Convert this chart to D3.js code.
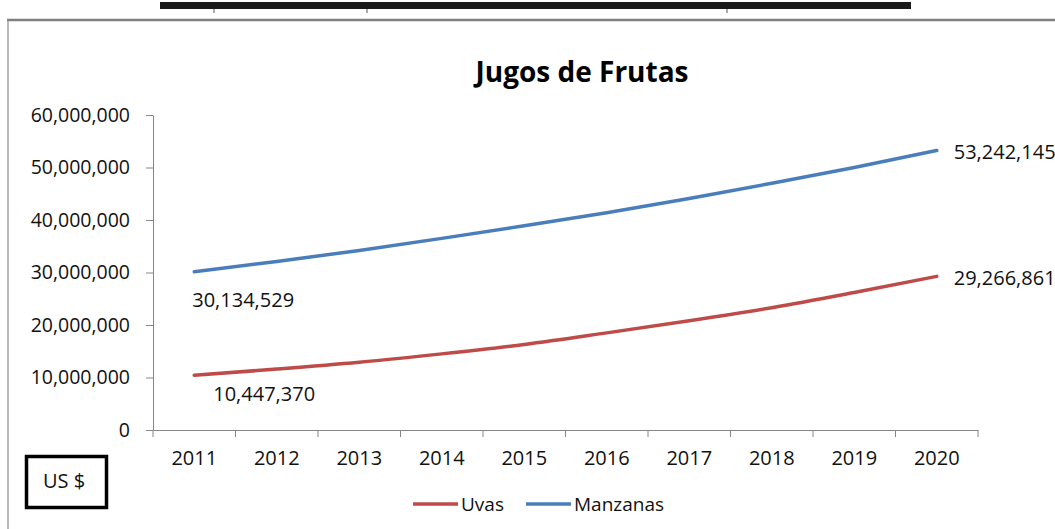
<!DOCTYPE html>
<html>
<head>
<meta charset="utf-8">
<script src="https://cdn.jsdelivr.net/npm/d3@7"></script>
<style>
body { margin: 0; background: #fff; }
text { font-family: "Open Sans", sans-serif; fill: #111; }
</style>
</head>
<body>
<svg width="1055" height="529"></svg>
<script>
// values (US $)
var years = ['2011', '2012', '2013', '2014', '2015', '2016', '2017', '2018', '2019', '2020'];
var uvas = [10447370, 11600000, 12900000, 14500000, 16300000, 18500000, 20800000, 23300000, 26200000, 29266861];
var manzanas = [30134529, 32100000, 34200000, 36500000, 38900000, 41400000, 44100000, 47000000, 50000000, 53242145];
var yTicks = [0, 10000000, 20000000, 30000000, 40000000, 50000000, 60000000];
var seriesNames = ['Uvas', 'Manzanas'];
var seriesColors = ['#be4b48', '#4a7ebb'];

var svg = d3.select('svg');
var axisColor = '#868686';

var x = d3.scaleBand().domain(years).range([153, 978]);
var y = d3.scaleLinear().domain([0, 60000000]).range([430, 115]);
function cx(i) { return x(years[i]) + x.bandwidth() / 2; }

// page frame bits (cropped from a document)
svg.append('rect').attr('x', 160).attr('y', 2).attr('width', 751).attr('height', 7).attr('fill', '#1a1a1a');
[213, 366, 726].forEach(function(px) {
    svg.append('rect').attr('x', px).attr('y', 9).attr('width', 2).attr('height', 4).attr('fill', '#aaa');
});
svg.append('line').attr('x1', 7).attr('x2', 1055).attr('y1', 20).attr('y2', 20)
    .attr('stroke', '#7f7f7f').attr('stroke-width', 2.5);
svg.append('line').attr('x1', 8).attr('x2', 8).attr('y1', 20).attr('y2', 529)
    .attr('stroke', '#8a8a8a').attr('stroke-width', 1.2);

// title
svg.append('text').attr('x', 582).attr('y', 82).attr('text-anchor', 'middle')
    .style('font-size', '28px').style('font-weight', 'bold').style('fill', '#000')
    .text('Jugos de Frutas');

// y axis
var yAxis = svg.append('g').attr('transform', 'translate(153,0)')
    .call(d3.axisLeft(y).tickValues(yTicks).tickSize(7).tickSizeOuter(0).tickPadding(16)
        .tickFormat(d3.format(',')));
yAxis.select('.domain').attr('stroke', axisColor);
yAxis.selectAll('.tick line').attr('stroke', axisColor);
yAxis.selectAll('text').style('font-size', '19.5px').style('font-family', '"Open Sans", sans-serif').attr('fill', '#111');

// x axis
var xAxis = svg.append('g').attr('transform', 'translate(0,430)')
    .call(d3.axisBottom(x).tickSize(0).tickSizeOuter(0).tickPadding(21));
xAxis.select('.domain').attr('stroke', axisColor);
xAxis.selectAll('text').style('font-size', '20px').style('font-family', '"Open Sans", sans-serif').attr('fill', '#111');
var edges = years.map(function(d) { return x(d); }).concat([x.range()[1]]);
xAxis.selectAll('line.edge').data(edges).enter().append('line').attr('class', 'edge')
    .attr('x1', function(d) { return d; }).attr('x2', function(d) { return d; })
    .attr('y1', 0).attr('y2', 7).attr('stroke', axisColor);

// lines
var line = d3.line()
    .x(function(d, i) { return cx(i); })
    .y(function(d) { return y(d); })
    .curve(d3.curveMonotoneX);

[uvas, manzanas].forEach(function(vals, k) {
    svg.append('path').datum(vals).attr('d', line)
        .attr('fill', 'none').attr('stroke', seriesColors[k])
        .attr('stroke-width', 3.5).attr('stroke-linecap', 'round');
});

// data labels on first and last points
var fmt = d3.format(',');
var last = years.length - 1;
function dataLabel(val, i, dx, dy) {
    svg.append('text').attr('x', cx(i) + dx).attr('y', y(val) + dy).attr('dy', '0.35em')
        .style('font-size', '20px').text(fmt(val));
}
dataLabel(manzanas[0], 0, -2, 28);
dataLabel(uvas[0], 0, 19, 19);
dataLabel(manzanas[last], last, 17, 2);
dataLabel(uvas[last], last, 17, 2);

// legend
var legendX = [413, 526];
seriesNames.forEach(function(name, k) {
    svg.append('line').attr('x1', legendX[k]).attr('x2', legendX[k] + 45)
        .attr('y1', 504).attr('y2', 504)
        .attr('stroke', seriesColors[k]).attr('stroke-width', 3.5);
    svg.append('text').attr('x', legendX[k] + 48).attr('y', 504).attr('dy', '0.35em')
        .style('font-size', '19px').text(name);
});

// unit box
svg.append('rect').attr('x', 26.5).attr('y', 456.5).attr('width', 80).attr('height', 51)
    .attr('fill', 'none').attr('stroke', '#000').attr('stroke-width', 3.5);
svg.append('text').attr('x', 64).attr('y', 481).attr('dy', '0.35em').attr('text-anchor', 'middle')
    .style('font-size', '20px').text('US $');
</script>
</body>
</html>
